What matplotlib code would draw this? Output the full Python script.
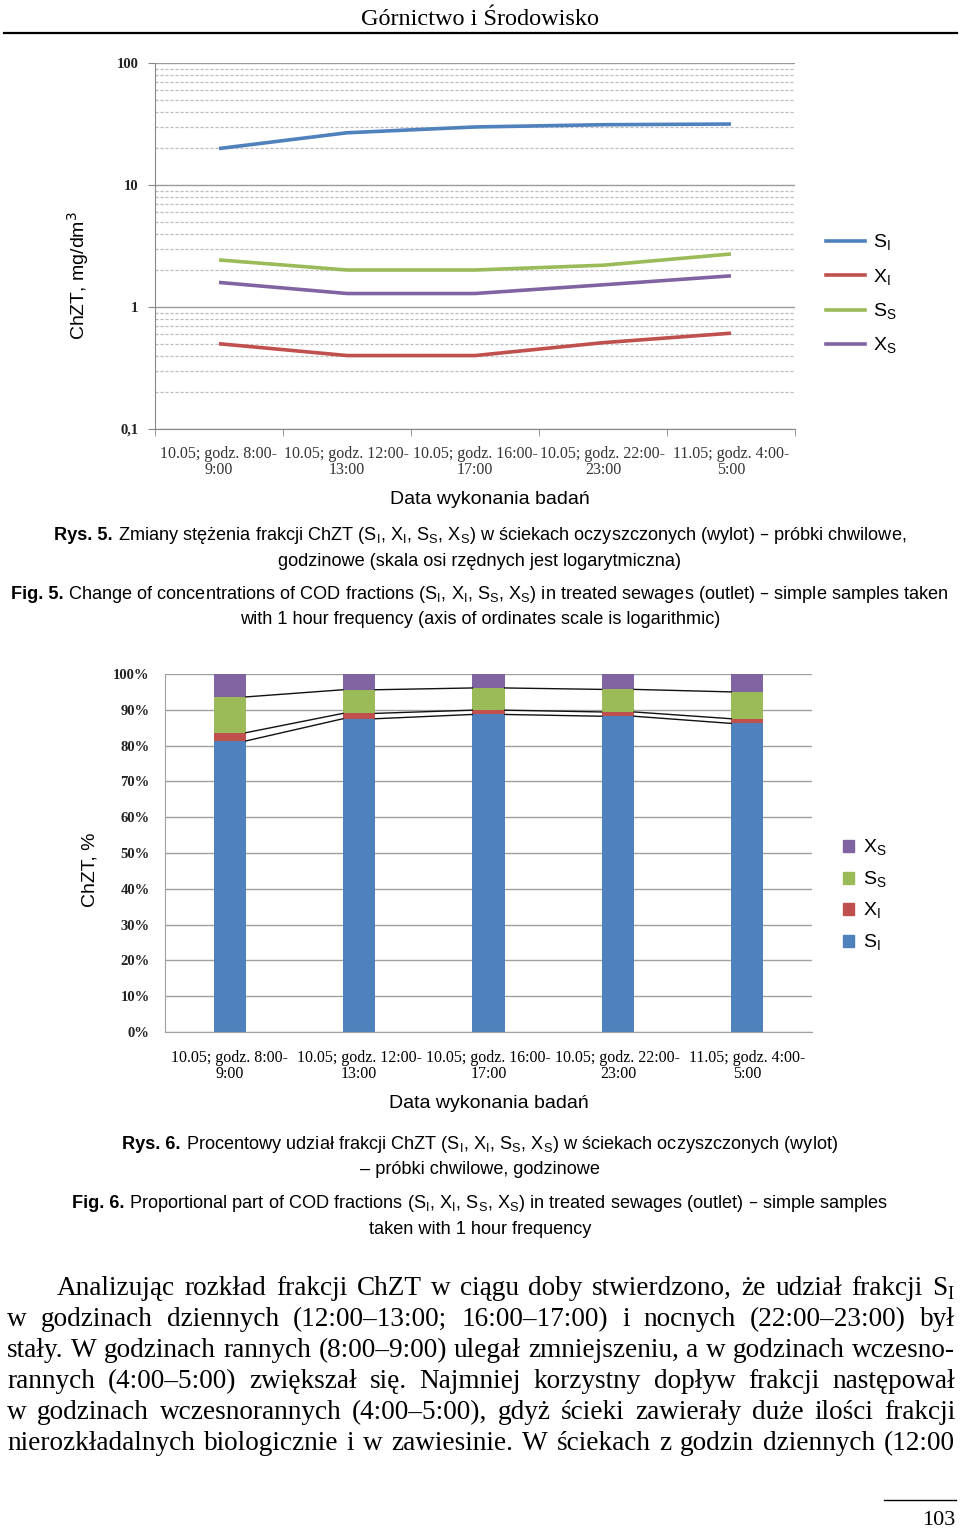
import matplotlib
matplotlib.use("Agg")
import matplotlib.pyplot as plt
from matplotlib import font_manager
from matplotlib.lines import Line2D
from matplotlib.patches import Patch
import numpy as np

# ---------------- data ----------------
categories = ["10.05; godz. 8:00-\n9:00", "10.05; godz. 12:00-\n13:00",
              "10.05; godz. 16:00-\n17:00", "10.05; godz. 22:00-\n23:00",
              "11.05; godz. 4:00-\n5:00"]
series_names = ["S$_\\mathregular{I}$", "X$_\\mathregular{I}$",
                "S$_\\mathregular{S}$", "X$_\\mathregular{S}$"]
# Fig. 5 – concentrations, mg/dm3 (log scale)
SI_conc = [19.9, 26.8, 29.9, 31.2, 31.6]
XI_conc = [0.50, 0.40, 0.40, 0.51, 0.61]
SS_conc = [2.43, 2.01, 2.01, 2.20, 2.72]
XS_conc = [1.59, 1.29, 1.29, 1.52, 1.80]
# Fig. 6 – percentage shares, %
SI_pct = [81.3, 87.5, 88.7, 88.2, 86.2]
XI_pct = [2.3, 1.5, 1.2, 1.2, 1.3]
SS_pct = [10.0, 6.6, 6.2, 6.3, 7.5]
XS_pct = [6.4, 4.4, 3.9, 4.3, 5.0]
log_ticks = [0.1, 1, 10, 100]
log_tick_labels = ["0,1", "1", "10", "100"]
pct_ticks = list(range(0, 101, 10))
pct_tick_labels = [f"{v}%" for v in pct_ticks]

colors = ["#4F81BD", "#C0504D", "#9BBB59", "#8064A2"]

W, H = 960, 1530


def has_font(name):
    try:
        font_manager.findfont(name, fallback_to_default=False)
        return True
    except Exception:
        return False


NARROW = "Liberation Sans Narrow" if has_font("Liberation Sans Narrow") else "Liberation Sans"
SERIF = "Liberation Serif"
SANS = "Liberation Sans"

fig = plt.figure(figsize=(W / 100, H / 100), dpi=100)
renderer = fig.canvas.get_renderer()


def fx(x):
    return x / W


def fy(y):
    return 1 - y / H


def text_width(s, **kw):
    t = fig.text(0, 0, s, **kw)
    w = t.get_window_extent(renderer).width
    t.remove()
    return w


def pieces_width(pieces, size, family):
    return sum(text_width(s, fontsize=size, family=family, fontweight=wt) for s, wt in pieces)


def pieces_centered(xc, y, pieces, size, family):
    widths = [text_width(s, fontsize=size, family=family, fontweight=wt) for s, wt in pieces]
    x = xc - sum(widths) / 2
    for (s, wt), w in zip(pieces, widths):
        fig.text(fx(x), fy(y), s, fontsize=size, family=family, fontweight=wt,
                 ha="left", va="baseline")
        x += w


def justified(words, left, right, y, size, family):
    widths = [text_width(w, fontsize=size, family=family) for w in words]
    gap = (right - left - sum(widths)) / (len(words) - 1)
    x = left
    for w, wd in zip(words, widths):
        fig.text(fx(x), fy(y), w, fontsize=size, family=family, ha="left", va="baseline")
        x += wd + gap


# ---------------- header ----------------
fig.text(fx(480), fy(25), "Górnictwo i Środowisko", fontsize=17.5, family=SERIF,
         ha="center", va="baseline")
fig.add_artist(Line2D([fx(4), fx(957)], [fy(33), fy(33)], color="black", lw=1.6))

# ---------------- chart 1 (log) ----------------
ax1 = fig.add_axes([fx(155), fy(429), (795 - 155) / W, (429 - 63) / H])
x = np.arange(len(categories))
for vals, c in zip([SI_conc, XI_conc, SS_conc, XS_conc], colors):
    ax1.plot(x, vals, color=c, lw=2.6, solid_capstyle="butt")
ax1.set_yscale("log")
ax1.set_ylim(0.1, 100)
ax1.set_xlim(-0.5, len(categories) - 0.5)
ax1.set_yticks(log_ticks)
ax1.set_yticklabels(log_tick_labels)
ax1.yaxis.set_minor_locator(matplotlib.ticker.LogLocator(base=10, subs=np.arange(2, 10)))
ax1.yaxis.set_minor_formatter(matplotlib.ticker.NullFormatter())
ax1.grid(True, which="major", axis="y", color="#9A9A9A", lw=1.0)
ax1.grid(True, which="minor", axis="y", color="#BDBDBD", lw=0.9, ls=(0, (2.5, 1.5)))
ax1.tick_params(axis="y", which="minor", length=0)
ax1.tick_params(axis="y", which="major", length=5, color="#888888", labelsize=10.5,
                labelcolor="#222222", pad=7)
for lab in ax1.get_yticklabels():
    lab.set_family(SERIF)
    lab.set_fontweight("bold")
ax1.set_xticks(x)
ax1.set_xticklabels(categories, fontsize=11.5, family=SERIF, color="#333333",
                    linespacing=1.0)
ax1.tick_params(axis="x", which="major", length=0, pad=12)
ax1.set_xticks(np.arange(-0.5, len(categories)), minor=True)
ax1.tick_params(axis="x", which="minor", length=5, color="#888888")
for s in ["top", "right"]:
    ax1.spines[s].set_visible(False)
for s in ["left", "bottom"]:
    ax1.spines[s].set_color("#888888")
ax1.set_axisbelow(True)

fig.text(fx(78), fy(276), "ChZT, mg/dm$^3$", rotation=90, fontsize=14, family=SANS,
         ha="center", va="center")
fig.text(fx(490), fy(504), "Data wykonania badań", fontsize=14, family=SANS,
         ha="center", va="baseline")
h1 = [Line2D([0], [0], color=c, lw=2.6) for c in colors]
fig.legend(h1, series_names, loc="upper left", bbox_to_anchor=(fx(826), fy(233)),
           frameon=False, prop={"family": SANS, "size": 14}, handlelength=2.0,
           handletextpad=0.4, labelspacing=0.72, borderaxespad=0, borderpad=0)

# ---------------- captions ----------------
cap5a = [("Rys. 5.", "bold"),
         (" Zmiany stężenia frakcji ChZT (S$_\\mathregular{I}$, X$_\\mathregular{I}$, "
          "S$_\\mathregular{S}$, X$_\\mathregular{S}$) w ściekach oczyszczonych (wylot) – "
          "próbki chwilowe,", "normal")]
cap5b = [("godzinowe (skala osi rzędnych jest logarytmiczna)", "normal")]
fig5a = [("Fig. 5.", "bold"),
         (" Change of concentrations of COD fractions (S$_\\mathregular{I}$, "
          "X$_\\mathregular{I}$, S$_\\mathregular{S}$, X$_\\mathregular{S}$) in treated "
          "sewages (outlet) – simple samples taken", "normal")]
fig5b = [("with 1 hour frequency (axis of ordinates scale is logarithmic)", "normal")]
cap6a = [("Rys. 6.", "bold"),
         (" Procentowy udział frakcji ChZT (S$_\\mathregular{I}$, X$_\\mathregular{I}$, "
          "S$_\\mathregular{S}$, X$_\\mathregular{S}$) w ściekach oczyszczonych (wylot)",
          "normal")]
cap6b = [("– próbki chwilowe, godzinowe", "normal")]
fig6a = [("Fig. 6.", "bold"),
         (" Proportional part of COD fractions (S$_\\mathregular{I}$, "
          "X$_\\mathregular{I}$, S$_\\mathregular{S}$, X$_\\mathregular{S}$) in treated "
          "sewages (outlet) – simple samples", "normal")]
fig6b = [("taken with 1 hour frequency", "normal")]

CAP = min(15.0 * 941 / pieces_width(fig5a, 15.0, NARROW), 15.0)
pieces_centered(480, 540, cap5a, CAP, NARROW)
pieces_centered(480, 566, cap5b, CAP, NARROW)
pieces_centered(480, 599, fig5a, CAP, NARROW)
pieces_centered(480, 624, fig5b, CAP, NARROW)

# ---------------- chart 2 (stacked %) ----------------
ax2 = fig.add_axes([fx(165), fy(1032), (812 - 165) / W, (1032 - 674) / H])
bw = 0.25
bottom = np.zeros(len(categories))
tops = []
for vals, c in zip([SI_pct, XI_pct, SS_pct, XS_pct], colors):
    ax2.bar(x, vals, bw, bottom=bottom, color=c, zorder=2)
    bottom = bottom + np.array(vals)
    tops.append(bottom.copy())
for t in tops[:3]:
    for i in range(len(categories) - 1):
        ax2.plot([x[i] + bw / 2, x[i + 1] - bw / 2], [t[i], t[i + 1]], color="#111111",
                 lw=1.0, zorder=3)
ax2.set_ylim(0, 100)
ax2.set_xlim(-0.5, len(categories) - 0.5)
ax2.set_yticks(pct_ticks)
ax2.set_yticklabels(pct_tick_labels)
ax2.grid(True, axis="y", color="#A0A0A0", lw=1.0, zorder=0)
ax2.tick_params(axis="y", length=0, labelsize=10.5, labelcolor="#222222", pad=11)
for lab in ax2.get_yticklabels():
    lab.set_family(SERIF)
    lab.set_fontweight("bold")
ax2.set_xticks(x)
ax2.set_xticklabels(categories, fontsize=11.5, family=SERIF, color="black", linespacing=1.0)
ax2.tick_params(axis="x", length=0, pad=13)
for s in ["top", "right"]:
    ax2.spines[s].set_visible(False)
for s in ["left", "bottom"]:
    ax2.spines[s].set_color("#A0A0A0")
ax2.set_axisbelow(True)

fig.text(fx(90), fy(870), "ChZT, %", rotation=90, fontsize=14, family=SANS,
         ha="center", va="center")
fig.text(fx(489), fy(1108), "Data wykonania badań", fontsize=14, family=SANS,
         ha="center", va="baseline")
h2 = [Patch(color=c) for c in colors][::-1]
fig.legend(h2, series_names[::-1], loc="upper left", bbox_to_anchor=(fx(843), fy(838)),
           frameon=False, prop={"family": SANS, "size": 14}, handlelength=0.55,
           handleheight=0.55, handletextpad=0.5, labelspacing=0.58, borderaxespad=0,
           borderpad=0)

pieces_centered(480, 1149, cap6a, CAP, NARROW)
pieces_centered(480, 1174, cap6b, CAP, NARROW)
pieces_centered(480, 1208, fig6a, CAP, NARROW)
pieces_centered(480, 1234, fig6b, CAP, NARROW)

# ---------------- body text ----------------
lines = [
    "Analizując rozkład frakcji ChZT w ciągu doby stwierdzono, że udział frakcji S$_\\mathregular{I}$",
    "w godzinach dziennych (12:00–13:00; 16:00–17:00) i nocnych (22:00–23:00) był",
    "stały. W godzinach rannych (8:00–9:00) ulegał zmniejszeniu, a w godzinach wczesno-",
    "rannych (4:00–5:00) zwiększał się. Najmniej korzystny dopływ frakcji następował",
    "w godzinach wczesnorannych (4:00–5:00), gdyż ścieki zawierały duże ilości frakcji",
    "nierozkładalnych biologicznie i w zawiesinie. W ściekach z godzin dziennych (12:00",
]
ref = 18.0
nat = text_width(lines[2], fontsize=ref, family=SERIF)
BODY = min(ref * (955 - 7) / nat * 0.995, 20)
base_y = [1295, 1326, 1357, 1388, 1419, 1450]
for i, (ln, by) in enumerate(zip(lines, base_y)):
    left = 57 if i == 0 else 7
    justified(ln.split(" "), left, 955, by, BODY, SERIF)

# ---------------- page number ----------------
fig.add_artist(Line2D([fx(884), fx(956)], [fy(1500), fy(1500)], color="black", lw=1.0))
fig.text(fx(955), fy(1525), "103", fontsize=16, family=SERIF, ha="right", va="baseline")

fig.savefig("out.png", dpi=100)
